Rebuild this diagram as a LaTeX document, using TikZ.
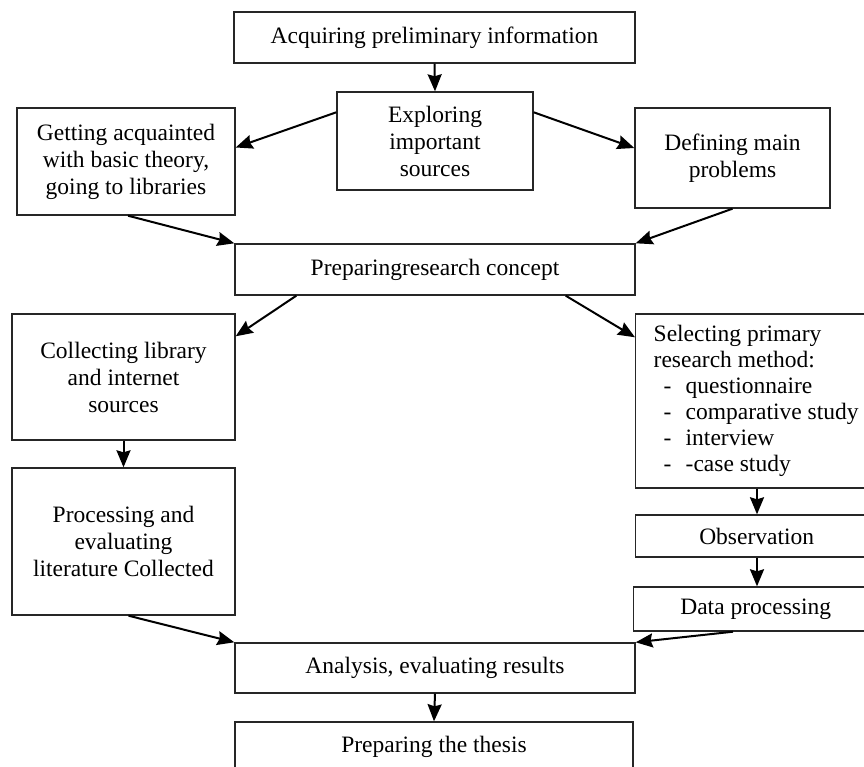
\documentclass[tikz,border=0pt]{standalone}
\usepackage{fontspec}
\setmainfont{Liberation Serif}
\usetikzlibrary{arrows.meta,calc}
\tikzset{
  box/.style={draw=black!85, line width=1.4pt, align=center, inner sep=2pt,
    font=\fontsize{23.5}{27}\selectfont},
  arr/.style={line width=2pt, -{Stealth[length=17pt,width=14pt,inset=2pt]}},
}
\begin{document}
\begin{tikzpicture}[x=1pt,y=-1pt]
\useasboundingbox (0,0) rectangle (864,767);
\clip (0,0) rectangle (864,767);
\fill[white] (0,0) rectangle (864,767);

\node[box, minimum width=401pt, minimum height=51pt] (acq) at (434.5,37.5) {Acquiring preliminary information};
\node[box, minimum width=196pt, minimum height=98pt] (expl) at (435,141) {Exploring\\important\\sources};
\node[box, minimum width=218pt, minimum height=107pt] (get) at (126,161.5) {Getting acquainted\\with basic theory,\\going to libraries};
\node[box, minimum width=195pt, minimum height=100pt] (def) at (732.5,158) {Defining main\\problems};
\node[box, minimum width=400pt, minimum height=51pt] (prep) at (435,269.5) {Preparingresearch concept};
\node[box, minimum width=223pt, minimum height=126pt] (coll) at (123.5,377) {Collecting library\\and internet\\sources};
\node[box, anchor=west, minimum width=266pt, minimum height=174pt, text width=230pt, align=flush left,
  inner xsep=18pt, inner ysep=0pt,
  font=\fontsize{23.5}{26}\selectfont] (sel) at (635,401)
  {Selecting primary\\research method:\\
   \hspace*{10pt}\makebox[22pt][l]{-}questionnaire\\
   \hspace*{10pt}\makebox[22pt][l]{-}comparative study\\
   \hspace*{10pt}\makebox[22pt][l]{-}interview\\
   \hspace*{10pt}\makebox[22pt][l]{-}-case study};
\node[box, minimum width=223pt, minimum height=147pt] (proc) at (123.5,541.5) {Processing and\\evaluating\\literature Collected};
\node[box, anchor=west, minimum width=242pt, minimum height=42pt] (obs) at (635,536) {Observation};
\node[box, anchor=west, minimum width=244pt, minimum height=44pt] (data) at (633,609) {Data processing};
\node[box, minimum width=400pt, minimum height=50pt] (anal) at (435,668) {Analysis, evaluating results};
\node[box, minimum width=398pt, minimum height=50pt] (thes) at (434,747) {Preparing the thesis};

\draw[arr] (acq.south) -- (expl.north);
\draw[arr] ([yshift=-21pt]expl.north west) -- ([yshift=14pt]get.east);
\draw[arr] ([yshift=-21pt]expl.north east) -- ([yshift=10pt]def.west);
\draw[arr] ([xshift=2pt]get.south) -- (prep.north west);
\draw[arr] (def.south) -- (prep.north east);
\draw[arr] ([xshift=62pt]prep.south west) -- ([yshift=-23pt]coll.north east);
\draw[arr] ([xshift=-70pt]prep.south east) -- ([yshift=-24pt]sel.north west);
\draw[arr] (coll.south) -- (proc.north);
\draw[arr] ([xshift=122pt]sel.south west) -- ([xshift=122pt]obs.north west);
\draw[arr] ([xshift=122pt]obs.south west) -- ([xshift=124pt]data.north west);
\draw[arr] ([xshift=5pt]proc.south) -- (anal.north west);
\draw[arr] ([xshift=100pt]data.south west) -- (anal.north east);
\draw[arr] (anal.south) -- (thes.north);
\end{tikzpicture}
\end{document}
